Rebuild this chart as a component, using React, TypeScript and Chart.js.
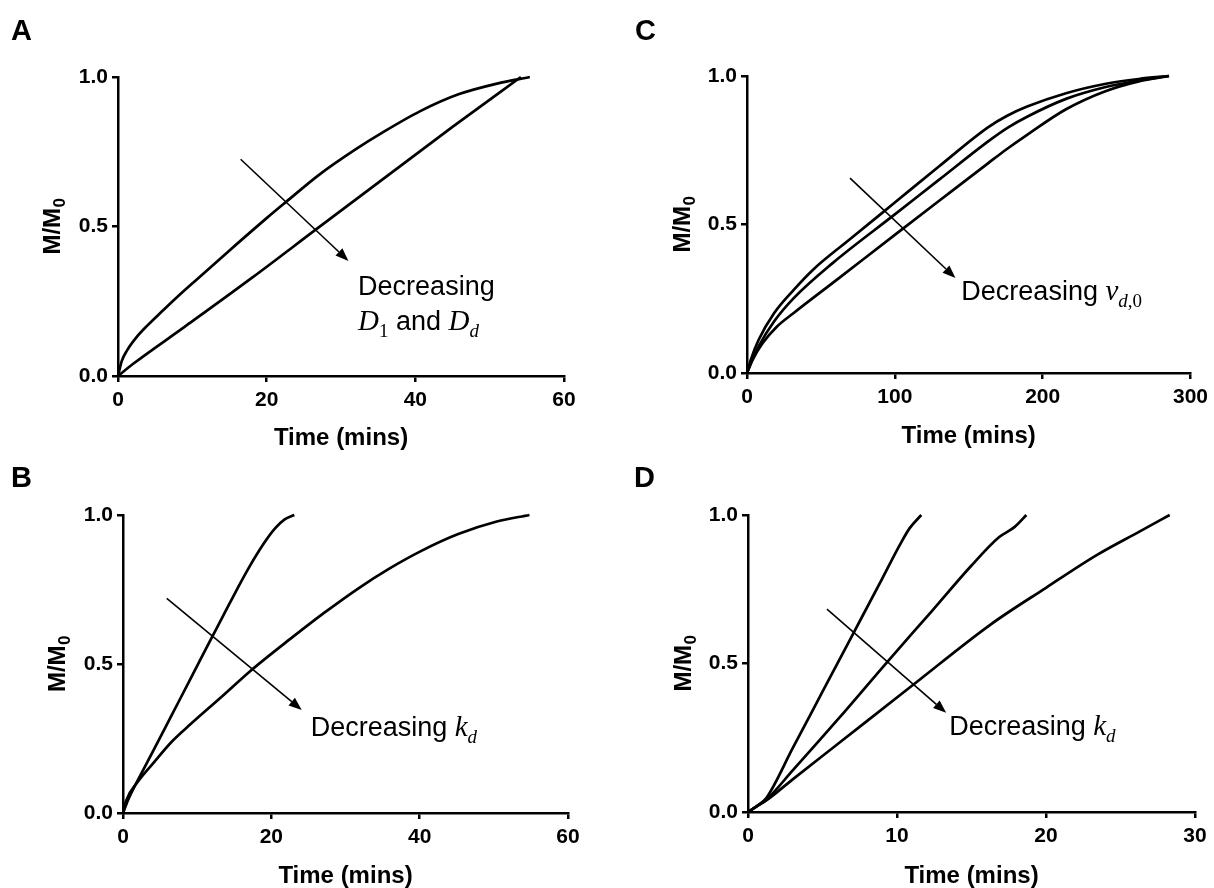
import React, { useEffect, useRef } from 'react';
import Chart from 'chart.js/auto';

// ---------- Data ----------
// Panel A
const timeA1 = [0, 0.5, 1.2, 2.5, 4, 6, 8, 10.6, 15, 20, 22.6, 27, 31.9, 35.5, 40.6, 45.8, 51, 55.4];
const fracA1 = [0, 0.05, 0.085, 0.13, 0.17, 0.218, 0.265, 0.323, 0.42, 0.528, 0.582, 0.672, 0.757, 0.813, 0.885, 0.942, 0.978, 1.0];
const timeA2 = [0, 2, 9, 18, 27, 36, 45, 54.2];
const fracA2 = [0, 0.04, 0.165, 0.328, 0.497, 0.665, 0.833, 1.0];

// Panel B
const timeB1 = [0, 0.7, 2, 4, 6.6, 9.2, 12, 14.3, 16.9, 19, 20.5, 21.8, 23.1];
const fracB1 = [0, 0.045, 0.11, 0.205, 0.33, 0.455, 0.59, 0.7, 0.82, 0.905, 0.955, 0.985, 1.0];
const timeB2 = [0, 0.4, 2, 4, 6.6, 9.2, 13.3, 17.1, 22.6, 27.2, 31.8, 35.9, 40.1, 45.2, 50.4, 54.8];
const fracB2 = [0, 0.04, 0.105, 0.165, 0.24, 0.3, 0.39, 0.475, 0.585, 0.673, 0.755, 0.82, 0.878, 0.936, 0.978, 1.0];

// Panel C
const timeC1 = [0, 2.6, 7.9, 18.4, 31.6, 44.7, 70, 100, 130, 163, 176, 189.5, 215.8, 242, 265, 285.5];
const fracC1 = [0, 0.045, 0.112, 0.202, 0.28, 0.348, 0.452, 0.574, 0.696, 0.827, 0.866, 0.897, 0.942, 0.973, 0.99, 1.0];
const timeC2 = [0, 2.6, 7.9, 18.4, 31.6, 57.9, 100, 130, 164.5, 177, 189.5, 215.8, 242, 265, 285];
const fracC2 = [0, 0.034, 0.09, 0.174, 0.252, 0.37, 0.534, 0.651, 0.785, 0.828, 0.863, 0.923, 0.962, 0.985, 1.0];
const timeC3 = [0, 3.9, 10.5, 20, 31.6, 60, 100, 130, 163, 176.3, 189.5, 215.8, 242, 265, 285.5];
const fracC3 = [0, 0.045, 0.1, 0.155, 0.202, 0.311, 0.465, 0.58, 0.706, 0.756, 0.802, 0.888, 0.948, 0.982, 1.0];

// Panel D
const timeD1 = [0, 0.6, 1.2, 3, 5, 7, 9, 10.2, 10.84, 11.63];
const fracD1 = [0, 0.02, 0.045, 0.215, 0.405, 0.595, 0.785, 0.9, 0.955, 1.0];
const timeD2 = [0, 0.6, 1.2, 3, 6, 9.34, 12.4, 15, 16.84, 17.9, 18.68];
const fracD2 = [0, 0.02, 0.04, 0.14, 0.31, 0.505, 0.68, 0.83, 0.925, 0.96, 1.0];
const timeD3 = [0, 0.6, 1.2, 3, 6, 11, 16.3, 20, 23.4, 26.3, 28.3];
const fracD3 = [0, 0.02, 0.038, 0.11, 0.228, 0.425, 0.632, 0.755, 0.865, 0.945, 1.0];

// Tick settings
const yTickValues = [0, 0.5, 1.0];
const xMaxAB = 60;
const xStepAB = 20;
const xMaxC = 300;
const xStepC = 100;
const xMaxD = 30;
const xStepD = 10;

const xTitle = 'Time (mins)';
const yTitleMain = 'M/M';
const yTitleSub = '0';

// Annotation anchors (data units)
const arrowA = [[16.5, 0.725], [31.0, 0.385]];
const textA = [32.3, 0.272];
const arrowB = [[5.9, 0.72], [24.1, 0.346]];
const textB = [25.3, 0.258];
const arrowC = [[69.7, 0.656], [141, 0.32]];
const textC = [145, 0.247];
const arrowD = [[5.3, 0.683], [13.3, 0.334]];
const textD = [13.5, 0.258];

type Seg = { t: string; f: 'sans' | 'it' | 'rm'; sub?: boolean };

const linesA: Seg[][] = [
  [{ t: 'Decreasing', f: 'sans' }],
  [
    { t: 'D', f: 'it' }, { t: '1', f: 'rm', sub: true }, { t: ' and ', f: 'sans' },
    { t: 'D', f: 'it' }, { t: 'd', f: 'it', sub: true },
  ],
];
const linesB: Seg[][] = [[{ t: 'Decreasing ', f: 'sans' }, { t: 'k', f: 'it' }, { t: 'd', f: 'it', sub: true }]];
const linesC: Seg[][] = [[
  { t: 'Decreasing ', f: 'sans' }, { t: 'v', f: 'it' }, { t: 'd', f: 'it', sub: true }, { t: ',0', f: 'rm', sub: true },
]];
const linesD: Seg[][] = linesB;

const SANS = "'Liberation Sans', Arial, Helvetica, sans-serif";
const SERIF = "'Liberation Serif', 'DejaVu Serif', 'Times New Roman', serif";

function zip(xs: number[], ys: number[]) {
  return xs.map((x, i) => ({ x, y: ys[i] }));
}

const notePlugin = {
  id: 'note',
  afterDatasetsDraw(chart: any, _args: any, opts: any) {
    if (!opts || !opts.arrow) return;
    const { ctx } = chart;
    const xs = chart.scales.x;
    const ys = chart.scales.y;
    const x1 = xs.getPixelForValue(opts.arrow[0][0]);
    const y1 = ys.getPixelForValue(opts.arrow[0][1]);
    const x2 = xs.getPixelForValue(opts.arrow[1][0]);
    const y2 = ys.getPixelForValue(opts.arrow[1][1]);
    const ang = Math.atan2(y2 - y1, x2 - x1);
    const head = 13;
    const hw = 5;
    const c = Math.cos(ang);
    const s = Math.sin(ang);
    ctx.save();
    ctx.strokeStyle = '#000';
    ctx.fillStyle = '#000';
    ctx.lineWidth = 1.6;
    ctx.beginPath();
    ctx.moveTo(x1, y1);
    ctx.lineTo(x2 - head * c, y2 - head * s);
    ctx.stroke();
    ctx.beginPath();
    ctx.moveTo(x2, y2);
    ctx.lineTo(x2 - head * c + hw * s, y2 - head * s - hw * c);
    ctx.lineTo(x2 - head * c - hw * s, y2 - head * s + hw * c);
    ctx.closePath();
    ctx.fill();

    const tx0 = xs.getPixelForValue(opts.text[0]);
    let ty = ys.getPixelForValue(opts.text[1]);
    ctx.textBaseline = 'alphabetic';
    ctx.textAlign = 'left';
    for (const line of opts.lines as Seg[][]) {
      let cx = tx0;
      for (const seg of line) {
        const size = seg.sub ? 19 : seg.f === 'sans' ? 27 : 29;
        if (seg.f === 'sans') ctx.font = `${size}px ${SANS}`;
        else if (seg.f === 'it') ctx.font = `italic ${size}px ${SERIF}`;
        else ctx.font = `${size}px ${SERIF}`;
        const dy = seg.sub ? 7 : 0;
        ctx.fillText(seg.t, cx, ty + dy);
        cx += ctx.measureText(seg.t).width;
      }
      ty += 35;
    }
    ctx.restore();
  },
  afterDraw(chart: any, _args: any, opts: any) {
    if (!opts) return;
    const { ctx, chartArea } = chart;
    ctx.save();
    ctx.fillStyle = '#000';
    if (opts.letter) {
      ctx.font = `bold 29px ${SANS}`;
      ctx.textBaseline = 'alphabetic';
      ctx.textAlign = 'left';
      ctx.fillText(opts.letter, opts.letterX, opts.letterY);
    }
    // rotated y-axis title with subscript
    const cy = (chartArea.top + chartArea.bottom) / 2;
    ctx.translate(opts.yTitleX, cy);
    ctx.rotate(-Math.PI / 2);
    ctx.textBaseline = 'alphabetic';
    ctx.textAlign = 'left';
    ctx.font = `bold 24px ${SANS}`;
    const wMain = ctx.measureText(yTitleMain).width;
    ctx.font = `bold 17px ${SANS}`;
    const wSub = ctx.measureText(yTitleSub).width;
    const x0 = -(wMain + wSub) / 2;
    const base = 8;
    ctx.font = `bold 24px ${SANS}`;
    ctx.fillText(yTitleMain, x0, base);
    ctx.font = `bold 17px ${SANS}`;
    ctx.fillText(yTitleSub, x0 + wMain + 0.5, base + 5);
    ctx.restore();
  },
};

type PanelCfg = {
  left: number; top: number; w: number; h: number;
  areaLeft: number; areaRight: number; areaTop: number; areaBottom: number;
  xMax: number; xStep: number;
  series: { x: number; y: number }[][];
  arrow: number[][]; text: number[]; lines: Seg[][];
  letter: string; letterX: number; letterY: number;
  xTitlePad: number; yTitleX: number;
};

const panels: PanelCfg[] = [
  {
    left: 0, top: 0, w: 607, h: 455,
    areaLeft: 118, areaRight: 564, areaTop: 77, areaBottom: 376,
    xMax: xMaxAB, xStep: xStepAB,
    series: [zip(timeA1, fracA1), zip(timeA2, fracA2)],
    arrow: arrowA, text: textA, lines: linesA,
    letter: 'A', letterX: 11, letterY: 40,
    xTitlePad: 5, yTitleX: 52,
  },
  {
    left: 0, top: 444, w: 607, h: 444,
    areaLeft: 123, areaRight: 568, areaTop: 71, areaBottom: 369,
    xMax: xMaxAB, xStep: xStepAB,
    series: [zip(timeB1, fracB1), zip(timeB2, fracB2)],
    arrow: arrowB, text: textB, lines: linesB,
    letter: 'B', letterX: 11, letterY: 43,
    xTitlePad: 0, yTitleX: 57,
  },
  {
    left: 607, top: 0, w: 607, h: 455,
    areaLeft: 140, areaRight: 587, areaTop: 76, areaBottom: 373,
    xMax: xMaxC, xStep: xStepC,
    series: [zip(timeC1, fracC1), zip(timeC2, fracC2), zip(timeC3, fracC3)],
    arrow: arrowC, text: textC, lines: linesC,
    letter: 'C', letterX: 28, letterY: 40,
    xTitlePad: 7, yTitleX: 75,
  },
  {
    left: 607, top: 444, w: 607, h: 444,
    areaLeft: 141, areaRight: 588, areaTop: 71, areaBottom: 368,
    xMax: xMaxD, xStep: xStepD,
    series: [zip(timeD1, fracD1), zip(timeD2, fracD2), zip(timeD3, fracD3)],
    arrow: arrowD, text: textD, lines: linesD,
    letter: 'D', letterX: 27, letterY: 43,
    xTitlePad: 0, yTitleX: 76,
  },
];

const tickFont = { family: SANS, size: 21, weight: 'bold' as const };
const titleFont = { family: SANS, size: 24, weight: 'bold' as const, lineHeight: 1 };
const gridOpts = {
  display: true,
  drawOnChartArea: false,
  drawTicks: true,
  tickLength: 6,
  tickWidth: 2.5,
  tickColor: '#000',
  lineWidth: 2.5,
  color: '#000',
};
const borderOpts = { display: true, width: 2.5, color: '#000' };

function Panel({ p }: { p: PanelCfg }) {
  const ref = useRef<HTMLCanvasElement>(null);
  useEffect(() => {
    const canvas = ref.current;
    if (!canvas) return;
    const chart = new Chart(canvas, {
      type: 'line',
      data: {
        datasets: p.series.map((d) => ({
          data: d,
          borderColor: '#000',
          backgroundColor: '#000',
          borderWidth: 2.7,
          pointRadius: 0,
          fill: false,
          cubicInterpolationMode: 'monotone' as const,
          clip: false as any,
        })),
      },
      options: {
        animation: false,
        responsive: false,
        devicePixelRatio: 1,
        events: [],
        layout: { padding: { left: 0, top: p.areaTop, right: p.w - p.areaRight, bottom: 0 } },
        plugins: {
          legend: { display: false },
          tooltip: { enabled: false },
          note: {
            arrow: p.arrow, text: p.text, lines: p.lines,
            letter: p.letter, letterX: p.letterX, letterY: p.letterY,
            yTitleX: p.yTitleX,
          },
        } as any,
        scales: {
          x: {
            type: 'linear',
            min: 0,
            max: p.xMax,
            afterFit: (s: any) => { s.height = p.h - p.areaBottom; },
            ticks: {
              stepSize: p.xStep,
              color: '#000',
              font: tickFont,
              padding: 6,
              maxRotation: 0,
              autoSkip: false,
              callback: (v: any) => String(v),
            },
            grid: gridOpts,
            border: borderOpts,
            title: {
              display: true,
              text: xTitle,
              color: '#000',
              font: titleFont,
              padding: { top: 0, bottom: p.xTitlePad },
            },
          },
          y: {
            type: 'linear',
            min: 0,
            max: 1,
            afterFit: (s: any) => { s.width = p.areaLeft; },
            afterBuildTicks: (s: any) => { s.ticks = yTickValues.map((v) => ({ value: v })); },
            ticks: {
              color: '#000',
              font: tickFont,
              padding: 4,
              callback: (v: any) => Number(v).toFixed(1),
            },
            grid: gridOpts,
            border: borderOpts,
            title: { display: false },
          },
        },
      },
      plugins: [notePlugin as any],
    });
    return () => chart.destroy();
  }, [p]);
  return (
    <canvas
      ref={ref}
      width={p.w}
      height={p.h}
      style={{ position: 'absolute', left: p.left, top: p.top, width: p.w, height: p.h }}
    />
  );
}

export default function App() {
  return (
    <div style={{ position: 'absolute', left: 0, top: 0, width: 1214, height: 888, overflow: 'hidden', background: '#fff' }}>
      {panels.map((p) => (
        <Panel key={p.letter} p={p} />
      ))}
    </div>
  );
}
